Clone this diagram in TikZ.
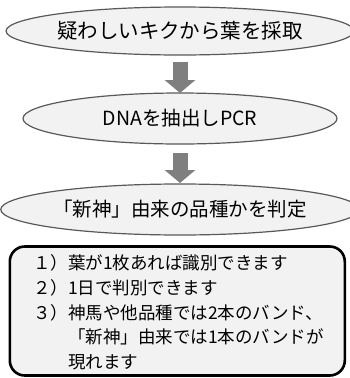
\documentclass[tikz,border=0pt]{standalone}
\usepackage{fontspec}
\setmainfont{Noto Sans CJK JP}
\usetikzlibrary{shapes.geometric,arrows.meta}
\definecolor{fillgray}{HTML}{F2F2F2}
\definecolor{edgegray}{HTML}{595959}
\definecolor{arrowgray}{HTML}{7F7F7F}
\tikzset{
  stepell/.style={ellipse, draw=edgegray, line width=1.2pt, fill=fillgray,
    minimum width=314pt, minimum height=51pt, inner sep=0pt, outer sep=0pt},
  blockarrow/.style={draw=arrowgray, line width=15pt,
    -{Triangle[length=13pt,width=30pt,fill=arrowgray]}},
  notebox/.style={draw=black, line width=2.6pt, fill=fillgray, rounded corners=15pt,
    minimum width=335pt, minimum height=129pt, inner sep=0pt, outer sep=0pt},
}
\begin{document}
\begin{tikzpicture}[x=1pt,y=1pt]
\useasboundingbox (0,0) rectangle (350,-378);
\node[stepell, minimum height=48pt, font=\fontsize{20.5}{24}\selectfont] (e1) at (180,-31) {疑わしいキクから葉を採取};
\node[stepell, font=\fontsize{19.5}{24}\selectfont] (e2) at (180,-118.5) {DNAを抽出しPCR};
\node[stepell, font=\fontsize{19.5}{24}\selectfont] (e3) at (180,-209.5) {「新神」由来の品種かを判定};
\draw[blockarrow, shorten <=7pt] (e1.south) -- (e2.north);
\draw[blockarrow, shorten <=9pt, shorten >=1pt] (e2.south) -- (e3.north);
\node[notebox] (box) at (177.3,-311) {};
\node[anchor=west, align=left, inner sep=0pt, font=\fontsize{17.5}{24.8}\selectfont] (txt) at (33,-312.5)
  {１）葉が1枚あれば識別できます\\
   ２）1日で判別できます\\
   ３）神馬や他品種では2本のバンド、\\
   \phantom{３）}「新神」由来では1本のバンドが\\
   \phantom{３）}現れます};
\end{tikzpicture}
\end{document}
